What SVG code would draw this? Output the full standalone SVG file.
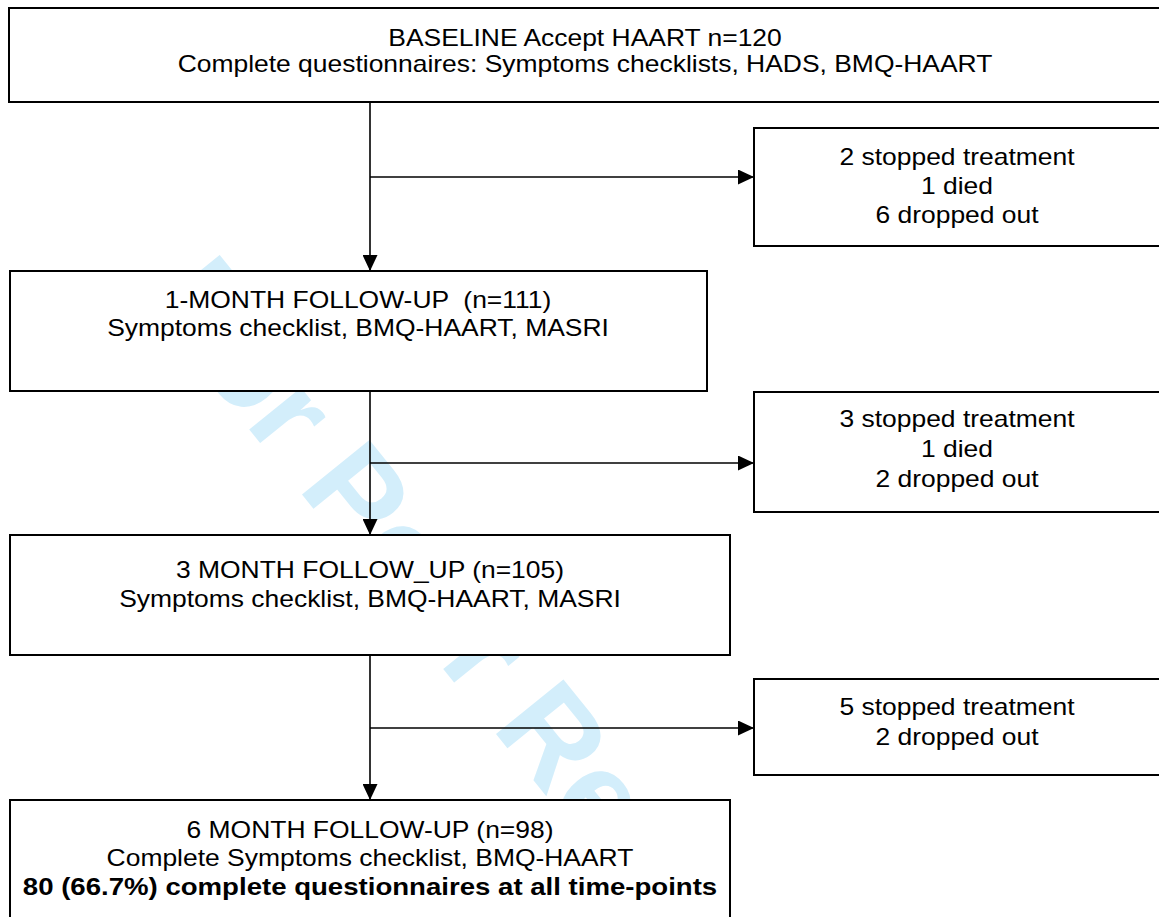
<svg xmlns="http://www.w3.org/2000/svg" width="1159" height="917" viewBox="0 0 1159 917">
<style>
.box{fill:#fff;stroke:#000;stroke-width:2}
.con{fill:none;stroke:#000;stroke-width:1.6}
.t{font-family:"Liberation Sans",Arial,sans-serif;font-size:23px;fill:#000;text-anchor:middle}
.b{font-weight:bold}
.wm{font-family:"Liberation Sans",Arial,sans-serif;font-size:126px;font-weight:bold;fill:#d3eefb}
</style>
<defs>
<marker id="ah" markerUnits="userSpaceOnUse" markerWidth="16" markerHeight="15" refX="16" refY="7.5" orient="auto">
<path d="M0,0 L16,7.5 L0,15 Z" fill="#000"/>
</marker>
</defs>
<rect width="1159" height="917" fill="#fff"/>
<text class="wm" transform="translate(147,303) rotate(51)">For Peer Review</text>
<g id="connectors">
<path class="con" d="M370,102 V271" marker-end="url(#ah)"/>
<path class="con" d="M370,177 H754" marker-end="url(#ah)"/>
<path class="con" d="M370,391 V535" marker-end="url(#ah)"/>
<path class="con" d="M370,463 H754" marker-end="url(#ah)"/>
<path class="con" d="M370,655 V800" marker-end="url(#ah)"/>
<path class="con" d="M370,728 H754" marker-end="url(#ah)"/>
</g>
<g id="baseline">
<rect class="box" x="9" y="8" width="1151" height="94"/>
<text class="t" transform="translate(585,46) scale(1.15,1)">BASELINE Accept HAART n=120</text>
<text class="t" transform="translate(585,72) scale(1.15,1)">Complete questionnaires: Symptoms checklists, HADS, BMQ-HAART</text>
</g>
<g id="loss1">
<rect class="box" x="754" y="128" width="406" height="118"/>
<text class="t" transform="translate(957,165) scale(1.15,1)">2 stopped treatment</text>
<text class="t" transform="translate(957,194) scale(1.15,1)">1 died</text>
<text class="t" transform="translate(957,223) scale(1.15,1)">6 dropped out</text>
</g>
<g id="month1">
<rect class="box" x="10" y="271" width="697" height="120"/>
<text class="t" xml:space="preserve" transform="translate(358,308) scale(1.15,1)">1-MONTH FOLLOW-UP  (n=111)</text>
<text class="t" transform="translate(358,336) scale(1.15,1)">Symptoms checklist, BMQ-HAART, MASRI</text>
</g>
<g id="loss2">
<rect class="box" x="754" y="392" width="406" height="120"/>
<text class="t" transform="translate(957,427) scale(1.15,1)">3 stopped treatment</text>
<text class="t" transform="translate(957,457) scale(1.15,1)">1 died</text>
<text class="t" transform="translate(957,487) scale(1.15,1)">2 dropped out</text>
</g>
<g id="month3">
<rect class="box" x="10" y="535" width="720" height="120"/>
<text class="t" transform="translate(370,578) scale(1.15,1)">3 MONTH FOLLOW_UP (n=105)</text>
<text class="t" transform="translate(370,607) scale(1.15,1)">Symptoms checklist, BMQ-HAART, MASRI</text>
</g>
<g id="loss3">
<rect class="box" x="754" y="679" width="406" height="96"/>
<text class="t" transform="translate(957,715) scale(1.15,1)">5 stopped treatment</text>
<text class="t" transform="translate(957,745) scale(1.15,1)">2 dropped out</text>
</g>
<g id="month6">
<rect class="box" x="10" y="800" width="720" height="130"/>
<text class="t" transform="translate(370,838) scale(1.15,1)">6 MONTH FOLLOW-UP (n=98)</text>
<text class="t" transform="translate(370,866) scale(1.15,1)">Complete Symptoms checklist, BMQ-HAART</text>
<text class="t b" transform="translate(370,895) scale(1.2,1)">80 (66.7%) complete questionnaires at all time-points</text>
</g>
</svg>
